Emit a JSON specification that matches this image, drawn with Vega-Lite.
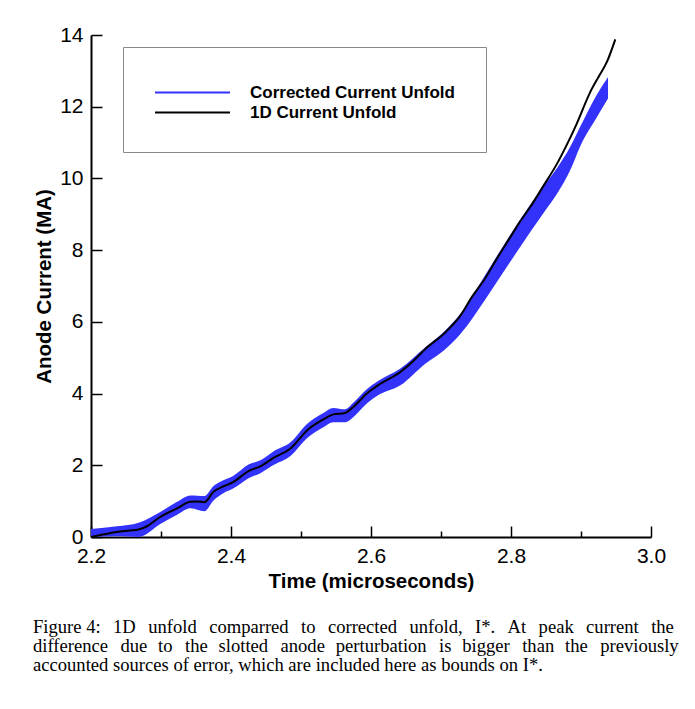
{
  "$schema": "https://vega.github.io/schema/vega-lite/v6.json",
  "width": 560,
  "height": 502,
  "autosize": {"type": "none"},
  "padding": {"left": 91, "top": 35, "right": 44, "bottom": 172},
  "background": "white",
  "title": {
    "text": [
      "Figure 4: \u2004\u200a1D \u2004\u200aunfold \u2004\u200acomparred \u2004\u200ato \u2004\u200acorrected \u2004\u200aunfold, \u2004\u200aI*. \u2004\u200aAt \u2004\u200apeak \u2004\u200acurrent \u2004\u200athe",
      "difference \u2004\u200adue \u2004to \u2004\u200athe \u2004slotted \u2004\u200aanode \u2004perturbation \u2004\u200ais \u2004bigger \u2004\u200athan \u2004the \u2004\u200apreviously",
      "accounted sources of error, which are included here as bounds on I*."
    ],
    "orient": "bottom",
    "anchor": "start",
    "frame": "group",
    "dx": -58,
    "offset": 26,
    "font": "Liberation Serif",
    "fontSize": 18.6,
    "fontWeight": "normal",
    "lineHeight": 19.3,
    "color": "black"
  },
  "datasets": {
    "band": [
      {"t": 2.200, "lo": 0.00, "hi": 0.22},
      {"t": 2.237, "lo": 0.02, "hi": 0.30},
      {"t": 2.268, "lo": 0.00, "hi": 0.40},
      {"t": 2.299, "lo": 0.36, "hi": 0.70},
      {"t": 2.323, "lo": 0.62, "hi": 0.98},
      {"t": 2.342, "lo": 0.80, "hi": 1.16},
      {"t": 2.362, "lo": 0.72, "hi": 1.14},
      {"t": 2.375, "lo": 1.02, "hi": 1.42},
      {"t": 2.389, "lo": 1.22, "hi": 1.58},
      {"t": 2.403, "lo": 1.35, "hi": 1.70},
      {"t": 2.425, "lo": 1.64, "hi": 2.02},
      {"t": 2.442, "lo": 1.78, "hi": 2.14},
      {"t": 2.460, "lo": 2.00, "hi": 2.38},
      {"t": 2.485, "lo": 2.26, "hi": 2.64},
      {"t": 2.509, "lo": 2.76, "hi": 3.16},
      {"t": 2.532, "lo": 3.06, "hi": 3.46},
      {"t": 2.546, "lo": 3.20, "hi": 3.60},
      {"t": 2.563, "lo": 3.20, "hi": 3.56},
      {"t": 2.575, "lo": 3.35, "hi": 3.75},
      {"t": 2.594, "lo": 3.72, "hi": 4.12},
      {"t": 2.610, "lo": 3.95, "hi": 4.35},
      {"t": 2.642, "lo": 4.23, "hi": 4.70},
      {"t": 2.678, "lo": 4.84, "hi": 5.30},
      {"t": 2.704, "lo": 5.20, "hi": 5.72},
      {"t": 2.728, "lo": 5.67, "hi": 6.23},
      {"t": 2.763, "lo": 6.62, "hi": 7.30},
      {"t": 2.797, "lo": 7.62, "hi": 8.37},
      {"t": 2.828, "lo": 8.52, "hi": 9.28},
      {"t": 2.847, "lo": 9.05, "hi": 9.80},
      {"t": 2.866, "lo": 9.58, "hi": 10.30},
      {"t": 2.885, "lo": 10.25, "hi": 10.90},
      {"t": 2.899, "lo": 10.90, "hi": 11.45},
      {"t": 2.923, "lo": 11.72, "hi": 12.35},
      {"t": 2.9386, "lo": 12.23, "hi": 12.83}
    ],
    "oned": [
      {"t": 2.200, "I": 0.00},
      {"t": 2.215, "I": 0.06},
      {"t": 2.237, "I": 0.14},
      {"t": 2.255, "I": 0.18},
      {"t": 2.268, "I": 0.21},
      {"t": 2.280, "I": 0.30},
      {"t": 2.299, "I": 0.56},
      {"t": 2.323, "I": 0.80},
      {"t": 2.342, "I": 0.98},
      {"t": 2.352, "I": 0.99},
      {"t": 2.362, "I": 0.97},
      {"t": 2.375, "I": 1.26},
      {"t": 2.389, "I": 1.41},
      {"t": 2.403, "I": 1.53},
      {"t": 2.425, "I": 1.84},
      {"t": 2.442, "I": 1.97},
      {"t": 2.460, "I": 2.20},
      {"t": 2.485, "I": 2.47},
      {"t": 2.509, "I": 2.98},
      {"t": 2.532, "I": 3.28},
      {"t": 2.546, "I": 3.42},
      {"t": 2.563, "I": 3.46},
      {"t": 2.575, "I": 3.63},
      {"t": 2.594, "I": 4.00},
      {"t": 2.610, "I": 4.23},
      {"t": 2.642, "I": 4.60},
      {"t": 2.660, "I": 4.90},
      {"t": 2.678, "I": 5.25},
      {"t": 2.704, "I": 5.67},
      {"t": 2.728, "I": 6.18},
      {"t": 2.744, "I": 6.69},
      {"t": 2.763, "I": 7.21},
      {"t": 2.780, "I": 7.77},
      {"t": 2.797, "I": 8.30},
      {"t": 2.811, "I": 8.74},
      {"t": 2.832, "I": 9.34},
      {"t": 2.845, "I": 9.75},
      {"t": 2.866, "I": 10.42},
      {"t": 2.880, "I": 10.95},
      {"t": 2.894, "I": 11.53},
      {"t": 2.913, "I": 12.40},
      {"t": 2.925, "I": 12.83},
      {"t": 2.937, "I": 13.25},
      {"t": 2.949, "I": 13.88}
    ]
  },
  "layer": [
    {
      "data": {"name": "band"},
      "mark": {"type": "area", "interpolate": "monotone", "clip": true, "opacity": 1},
      "encoding": {
        "x": {
          "field": "t", "type": "quantitative",
          "scale": {"domain": [2.2, 3.0], "nice": false, "zero": false},
          "axis": {
            "title": "Time (microseconds)",
            "values": [2.2, 2.25, 2.3, 2.35, 2.4, 2.45, 2.5, 2.55, 2.6, 2.65, 2.7, 2.75, 2.8, 2.85, 2.9, 2.95, 3.0],
            "labelExpr": "abs(datum.value*5 - round(datum.value*5)) < 0.0001 ? format(datum.value, '.1f') : ''",
            "tickSize": {"condition": {"test": "abs(datum.value*5 - round(datum.value*5)) < 0.0001", "value": -11}, "value": -6},
            "labelPadding": 19,
            "titlePadding": 0
          }
        },
        "y": {
          "field": "hi", "type": "quantitative",
          "scale": {"domain": [0, 14], "nice": false, "zero": false},
          "axis": {
            "title": "Anode Current (MA)",
            "values": [0, 0.5, 1, 1.5, 2, 2.5, 3, 3.5, 4, 4.5, 5, 5.5, 6, 6.5, 7, 7.5, 8, 8.5, 9, 9.5, 10, 10.5, 11, 11.5, 12, 12.5, 13, 13.5, 14],
            "labelExpr": "datum.value % 2 === 0 ? format(datum.value, 'd') : ''",
            "tickSize": {"condition": {"test": "datum.value % 2 === 0", "value": -11}, "value": -6},
            "labelPadding": 19,
            "titlePadding": 5
          }
        },
        "y2": {"field": "lo"},
        "color": {
          "datum": "Corrected Current Unfold",
          "type": "nominal",
          "scale": {"domain": ["Corrected Current Unfold", "1D Current Unfold"], "range": ["#3232fa", "#000000"]},
          "legend": {
            "orient": "none",
            "legendX": 32,
            "legendY": 12,
            "direction": "vertical",
            "title": " ",
            "titleFontSize": 5,
            "titlePadding": 1,
            "symbolType": "M-1,0L9,0",
            "symbolSize": 225,
            "symbolStrokeWidth": 2,
            "labelFont": "Liberation Sans",
            "labelFontSize": 17,
            "labelFontWeight": "bold",
            "labelColor": "black",
            "labelLimit": 400,
            "labelOffset": 79,
            "padding": 31,
            "rowPadding": 2,
            "strokeColor": "#888888",
            "fillColor": "white",
            "encode": {
              "symbols": {
                "update": {
                  "stroke": {"scale": "color", "field": "value"},
                  "fill": {"value": "transparent"},
                  "strokeWidth": {"value": 2}
                }
              }
            }
          }
        }
      }
    },
    {
      "data": {"name": "oned"},
      "mark": {"type": "line", "interpolate": "monotone", "strokeWidth": 2, "clip": true},
      "encoding": {
        "x": {"field": "t", "type": "quantitative"},
        "y": {"field": "I", "type": "quantitative"},
        "color": {"datum": "1D Current Unfold", "type": "nominal"}
      }
    }
  ],
  "config": {
    "view": {"stroke": null},
    "axis": {
      "grid": false,
      "domainColor": "black",
      "domainWidth": 2,
      "tickColor": "black",
      "tickWidth": 1.5,
      "labelFont": "Liberation Sans",
      "labelFontSize": 21,
      "labelColor": "black",
      "labelFlush": false,
      "labelOverlap": false,
      "titleFont": "Liberation Sans",
      "titleFontSize": 20.5,
      "titleFontWeight": "bold",
      "titleColor": "black"
    }
  }
}
